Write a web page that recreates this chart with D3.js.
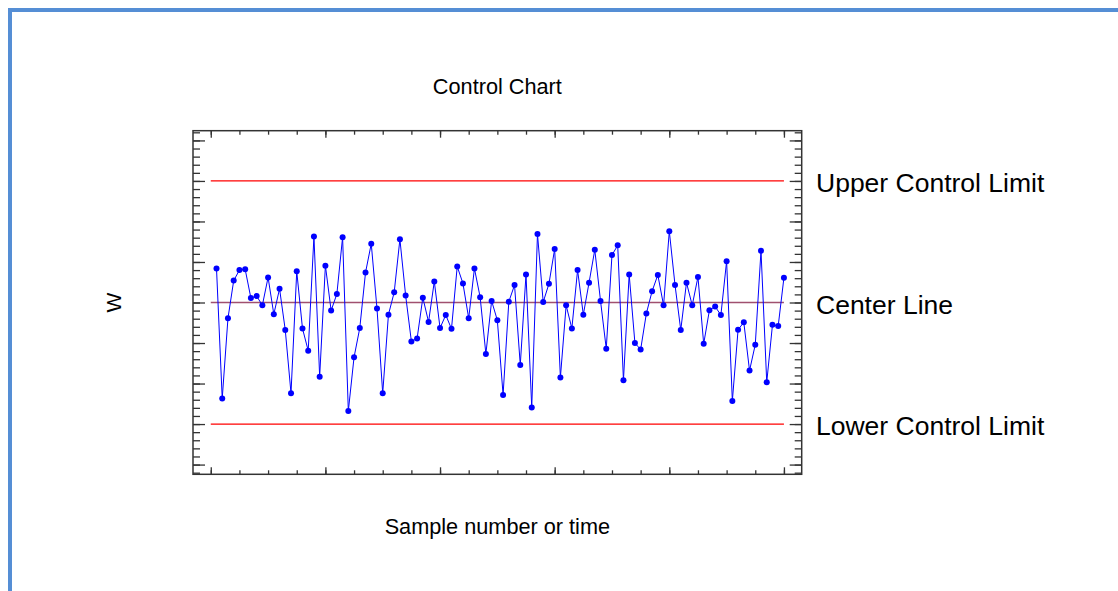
<!DOCTYPE html>
<html>
<head>
<meta charset="utf-8">
<script src="https://cdn.jsdelivr.net/npm/d3@7"></script>
<style>
  html, body { margin: 0; padding: 0; background: #ffffff; }
  svg { display: block; }
  text { font-family: "Liberation Sans", Arial, sans-serif; fill: #000; }
</style>
</head>
<body>
<svg id="chart" width="1118" height="591"></svg>
<script>
// ---- data ----
const samples = d3.range(1, 101);
const values = [
  0.84, -2.37, -0.39, 0.54, 0.80, 0.82, 0.11, 0.16, -0.07, 0.62,
  -0.29, 0.34, -0.68, -2.24, 0.77, -0.64, -1.19, 1.63, -1.83, 0.91,
  -0.20, 0.21, 1.61, -2.68, -1.35, -0.63, 0.74, 1.45, -0.15, -2.24,
  -0.30, 0.25, 1.56, 0.17, -0.96, -0.89, 0.12, -0.48, 0.52, -0.63,
  -0.31, -0.65, 0.89, 0.47, -0.39, 0.84, 0.13, -1.27, 0.04, -0.44,
  -2.28, 0.02, 0.43, -1.54, 0.69, -2.59, 1.69, 0.01, 0.46, 1.32,
  -1.85, -0.07, -0.64, 0.80, -0.30, 0.49, 1.30, 0.04, -1.14, 1.17,
  1.41, -1.92, 0.69, -1.00, -1.16, -0.27, 0.28, 0.68, -0.07, 1.76,
  0.43, -0.68, 0.49, -0.07, 0.63, -1.02, -0.19, -0.10, -0.31, 1.02,
  -2.43, -0.67, -0.49, -1.68, -1.04, 1.28, -1.97, -0.55, -0.58, 0.61
];
const limitNames = ["Upper Control Limit", "Center Line", "Lower Control Limit"];
const limitValues = [3, 0, -3];
const xMajorTicks = [0, 20, 40, 60, 80, 100];
const xMinorTicks = d3.range(0, 101, 5);
const yMajorTicks = [-4, -3, -2, -1, 0, 1, 2, 3, 4];
const yMinorTicks = d3.range(-42, 43, 2).map(v => v / 10);
const titleText = "Control Chart";
const xLabel = "Sample number or time";
const yLabel = "W";

// ---- layout ----
const plot = { left: 193, right: 801.7, top: 130.7, bottom: 474.3 };
const svg = d3.select("#chart");

// page frame (blue border)
svg.append("rect").attr("x", 8).attr("y", 8).attr("width", 1110).attr("height", 4).attr("fill", "#558ed5");
svg.append("rect").attr("x", 8).attr("y", 8).attr("width", 4).attr("height", 583).attr("fill", "#558ed5");

const x = d3.scaleLinear().domain([-3.1, 103.1]).range([plot.left, plot.right]);
const y = d3.scaleLinear().domain([-4.24, 4.24]).range([plot.bottom, plot.top]);

// axes ticks (inside)
function addAxis(axis, tx, ty) {
  const g = svg.append("g").attr("transform", `translate(${tx},${ty})`).call(axis);
  g.select(".domain").remove();
  g.selectAll("line").attr("stroke", "#333").attr("stroke-width", 1.3);
  g.selectAll("text").remove();
}
addAxis(d3.axisRight(y).tickValues(yMinorTicks).tickSize(7).tickFormat(""), plot.left, 0);
addAxis(d3.axisRight(y).tickValues(yMajorTicks).tickSize(12).tickFormat(""), plot.left, 0);
addAxis(d3.axisLeft(y).tickValues(yMinorTicks).tickSize(7).tickFormat(""), plot.right, 0);
addAxis(d3.axisLeft(y).tickValues(yMajorTicks).tickSize(12).tickFormat(""), plot.right, 0);
addAxis(d3.axisTop(x).tickValues(xMinorTicks).tickSize(4).tickFormat(""), 0, plot.bottom);
addAxis(d3.axisTop(x).tickValues(xMajorTicks).tickSize(7).tickFormat(""), 0, plot.bottom);
addAxis(d3.axisBottom(x).tickValues(xMinorTicks).tickSize(4).tickFormat(""), 0, plot.top);
addAxis(d3.axisBottom(x).tickValues(xMajorTicks).tickSize(7).tickFormat(""), 0, plot.top);

// plot frame
svg.append("rect")
  .attr("x", plot.left).attr("y", plot.top)
  .attr("width", plot.right - plot.left).attr("height", plot.bottom - plot.top)
  .attr("fill", "none").attr("stroke", "#333").attr("stroke-width", 1.5);

// control limit lines
const limitColors = ["#ff0000", "#a0506f", "#ff0000"];
const limitWidths = [1.2, 1.6, 1.2];
svg.selectAll(".limit").data(limitValues).enter().append("line")
  .attr("class", "limit")
  .attr("x1", x(0)).attr("x2", x(100))
  .attr("y1", d => y(d)).attr("y2", d => y(d))
  .attr("stroke", (d, i) => limitColors[i])
  .attr("stroke-width", (d, i) => limitWidths[i]);

// data line + points
const pts = samples.map((s, i) => [s, values[i]]);
svg.append("path").datum(pts)
  .attr("d", d3.line().x(d => x(d[0])).y(d => y(d[1])))
  .attr("fill", "none").attr("stroke", "#0000ff").attr("stroke-width", 1);
svg.selectAll(".pt").data(pts).enter().append("circle")
  .attr("class", "pt")
  .attr("cx", d => x(d[0])).attr("cy", d => y(d[1]))
  .attr("r", 3).attr("fill", "#0000ff");

// limit labels
svg.selectAll(".lbl").data(limitValues).enter().append("text")
  .attr("class", "lbl")
  .attr("x", 816).attr("y", d => y(d) + 11)
  .attr("font-size", "26.5px")
  .text((d, i) => limitNames[i]);

// title & axis labels
const cx = (plot.left + plot.right) / 2;
svg.append("text").attr("x", cx).attr("y", 94).attr("text-anchor", "middle")
  .attr("font-size", "21.7px").text(titleText);
svg.append("text").attr("x", cx).attr("y", 534).attr("text-anchor", "middle")
  .attr("font-size", "21.7px").text(xLabel);
svg.append("text").attr("transform", `translate(121, ${y(0)}) rotate(-90)`)
  .attr("text-anchor", "middle").attr("font-size", "21px").text(yLabel);
</script>
</body>
</html>
